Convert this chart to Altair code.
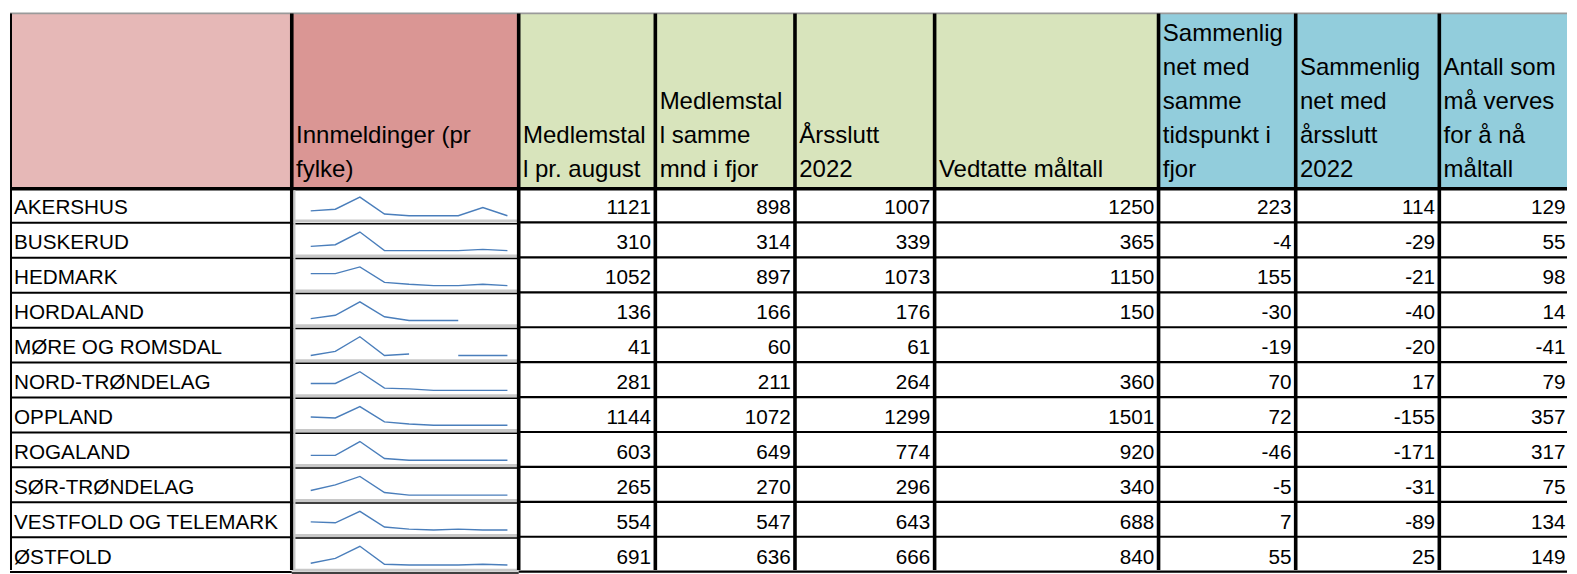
import altair as alt
import pandas as pd

# ---------------- data ----------------
regions = ["AKERSHUS", "BUSKERUD", "HEDMARK", "HORDALAND", "MØRE OG ROMSDAL",
           "NORD-TRØNDELAG", "OPPLAND", "ROGALAND", "SØR-TRØNDELAG",
           "VESTFOLD OG TELEMARK", "ØSTFOLD"]
medlemstall_aug = [1121, 310, 1052, 136, 41, 281, 1144, 603, 265, 554, 691]
samme_mnd_fjor = [898, 314, 897, 166, 60, 211, 1072, 649, 270, 547, 636]
arsslutt_2022 = [1007, 339, 1073, 176, 61, 264, 1299, 774, 296, 643, 666]
vedtatte_maltall = [1250, 365, 1150, 150, None, 360, 1501, 920, 340, 688, 840]
diff_fjor = [223, -4, 155, -30, -19, 70, 72, -46, -5, 7, 55]
diff_arsslutt = [114, -29, -21, -40, -20, 17, -155, -171, -31, -89, 25]
ma_verves = [129, 55, 98, 14, -41, 79, 357, 317, 75, 134, 149]

# sparkline: monthly enrolments (relative heights, per row)
innmeldinger = [
    [26, 35, 100, 9, 0, 0, 0, 44, 0],
    [23, 32, 100, 0, 0, 0, 0, 7, 0],
    [64, 64, 100, 17, 7, 0, 0, 7, 0],
    [10, 28, 100, 20, 0, 0, 0, None, None],
    [0, 22, 100, 0, 8, None, 0, 0, 0],
    [37, 37, 100, 12, 8, 0, 0, 0, 0],
    [44, 39, 100, 18, 7, 0, 0, 0, 0],
    [26, 26, 100, 9, 0, 0, 0, 0, 0],
    [25, 55, 100, 14, 0, 0, 0, 0, 0],
    [44, 39, 100, 16, 5, 0, 5, 0, 0],
    [9, 35, 100, 4, 0, 0, 0, 4, 0],
]

header_labels = [
    "",
    "Innmeldinger (pr\nfylke)",
    "Medlemstal\nl pr. august",
    "Medlemstal\nl samme\nmnd i fjor",
    "Årsslutt\n2022",
    "Vedtatte måltall",
    "Sammenlig\nnet med\nsamme\ntidspunkt i\nfjor",
    "Sammenlig\nnet med\nårsslutt\n2022",
    "Antall som\nmå verves\nfor å nå\nmåltall",
]
header_colors = ["#E6B8B7", "#DA9694", "#D8E4BC", "#D8E4BC", "#D8E4BC",
                 "#D8E4BC", "#92CDDC", "#92CDDC", "#92CDDC"]

# ---------------- layout (page pixels) ----------------
X0, Y0 = 8, 8          # page margin
XR, YB = 1569, 574     # right / bottom edge of the chart on the page
edges = [8, 290.5, 518, 655, 795, 935, 1159.5, 1297, 1441, 1600]
num_right = [e - 4.3 for e in edges[3:-1]] + [XR - 1.5]
head_top, head_bot = 13.5, 190
row_h = 35.17
row_bot0 = 224.4
line_gap = 34.2
last_base = 178
FONT = "Liberation Sans"
HFS, BFS = 24.0, 20.7

n = len(regions)
row_bots = [row_bot0 + i * row_h for i in range(n)]
row_tops = [b - row_h for b in row_bots]

X = alt.Scale(domain=[X0, XR], nice=False, zero=False)
Y = alt.Scale(domain=[Y0, YB], nice=False, zero=False, reverse=True)
noax = dict(axis=None)

# header rects
hdr = pd.DataFrame({
    "x0": edges[:-1], "x1": [min(e, XR) for e in edges[1:]],
    "y0": head_top, "y1": head_bot, "fill": header_colors,
})
hdr_rect = alt.Chart(hdr).mark_rect().encode(
    x=alt.X("x0:Q", scale=X, **noax), x2="x1:Q",
    y=alt.Y("y0:Q", scale=Y, **noax), y2="y1:Q",
    color=alt.Color("fill:N", scale=None),
)

# header text lines
hrows = []
for ci, lab in enumerate(header_labels):
    if not lab:
        continue
    lines = lab.split("\n")
    k = len(lines)
    for li, t in enumerate(lines):
        hrows.append({"x": edges[ci] + 4.3, "y": last_base - (k - 1 - li) * line_gap, "t": t})
hdr_text = alt.Chart(pd.DataFrame(hrows)).mark_text(
    align="left", baseline="alphabetic", font=FONT, fontSize=HFS, color="#000000"
).encode(x=alt.X("x:Q", scale=X, **noax), y=alt.Y("y:Q", scale=Y, **noax), text="t:N")

# body text
cols = [medlemstall_aug, samme_mnd_fjor, arsslutt_2022, vedtatte_maltall,
        diff_fjor, diff_arsslutt, ma_verves]
brows = []
for i, r in enumerate(regions):
    base = row_bots[i] - 8.6
    brows.append({"x": 12, "y": base, "t": r, "a": "name"})
    for j, c in enumerate(cols):
        v = c[i]
        brows.append({"x": num_right[j], "y": base, "t": "" if v is None else str(v), "a": "num"})
bdf = pd.DataFrame(brows)
name_text = alt.Chart(bdf).transform_filter("datum.a == 'name'").mark_text(
    align="left", baseline="alphabetic", font=FONT, fontSize=BFS, color="#000000"
).encode(x=alt.X("x:Q", scale=X, **noax), y=alt.Y("y:Q", scale=Y, **noax), text="t:N")
num_text = alt.Chart(bdf).transform_filter("datum.a == 'num'").mark_text(
    align="right", baseline="alphabetic", font=FONT, fontSize=BFS, color="#000000"
).encode(x=alt.X("x:Q", scale=X, **noax), y=alt.Y("y:Q", scale=Y, **noax), text="t:N")

# sparklines
sx0, sdx = 309.5, 24.65
srows = []
for i, r in enumerate(regions):
    for m, v in enumerate(innmeldinger[i]):
        srows.append({"region": r, "m": m, "v": v, "xp": sx0 + m * sdx, "top": row_tops[i]})
spark = alt.Chart(pd.DataFrame(srows)).transform_joinaggregate(
    vmin="min(v)", vmax="max(v)", groupby=["region"]
).transform_calculate(
    yp="isValid(datum.v) ? datum.top + 28.0 - (datum.v - datum.vmin) / (datum.vmax - datum.vmin) * 18.8 : null"
).mark_line(color="#4A7EBB", strokeWidth=1.4, invalid="break-paths-show-domains").encode(
    x=alt.X("xp:Q", scale=X, **noax), y=alt.Y("yp:Q", scale=Y, **noax),
    detail="region:N", order="m:Q",
)

# grid lines
hl = []
for i in range(n):
    yb = row_bots[i]
    hl.append({"x0": edges[0], "x1": edges[1], "y": yb, "w": 2.0, "c": "#000000"})
    hl.append({"x0": edges[1], "x1": edges[2], "y": yb - 1.8, "w": 3.0, "c": "#C8C8C8"})
    hl.append({"x0": edges[1], "x1": edges[2], "y": yb + 0.8, "w": 1.5, "c": "#000000"})
    hl.append({"x0": edges[2], "x1": XR, "y": yb - 0.4, "w": 2.2, "c": "#000000"})
hl.append({"x0": edges[0], "x1": XR, "y": head_top, "w": 1.8, "c": "#9A9A9A"})
hl.append({"x0": edges[0], "x1": XR, "y": head_bot, "w": 3.5, "c": "#000000"})
hrules = alt.Chart(pd.DataFrame(hl)).mark_rule().encode(
    x=alt.X("x0:Q", scale=X, **noax), x2="x1:Q",
    y=alt.Y("y:Q", scale=Y, **noax),
    strokeWidth=alt.StrokeWidth("w:Q", scale=None),
    color=alt.Color("c:N", scale=None),
)

vl = [{"x": edges[0] + 1, "y0": head_top, "y1": YB, "w": 2.0, "c": "#000000"}]
for e in edges[1:-1]:
    vl.append({"x": e, "y0": head_top, "y1": YB, "w": 3.6, "c": "#000000"})
vl.append({"x": edges[1] + 2.6, "y0": head_bot + 1.5, "y1": YB, "w": 2.2, "c": "#C8C8C8"})
vrules = alt.Chart(pd.DataFrame(vl)).mark_rule().encode(
    x=alt.X("x:Q", scale=X, **noax),
    y=alt.Y("y0:Q", scale=Y, **noax), y2="y1:Q",
    strokeWidth=alt.StrokeWidth("w:Q", scale=None),
    color=alt.Color("c:N", scale=None),
)

chart = alt.layer(
    hdr_rect, hrules, vrules, spark, hdr_text, name_text, num_text
).properties(
    width=XR - X0, height=YB - Y0,
    autosize=alt.AutoSizeParams(type="fit", contains="padding"),
    padding=0,
    background="#FFFFFF",
).configure_view(strokeWidth=0)

chart.save("out.html", embed_options={"renderer": "svg", "actions": False})
